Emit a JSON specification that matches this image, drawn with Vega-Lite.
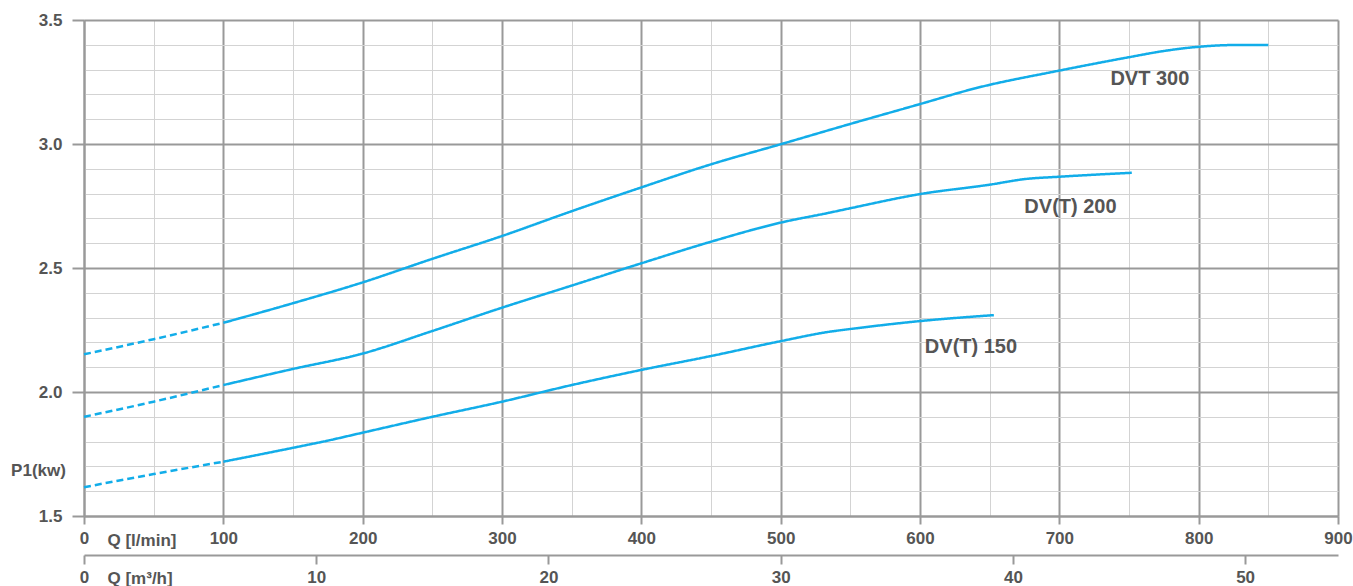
{
  "$schema": "https://vega.github.io/schema/vega-lite/v6.json",
  "width": 1254,
  "height": 496,
  "autosize": {"type": "none"},
  "padding": {"left": 84, "top": 20, "right": 15, "bottom": 70},
  "background": "white",
  "config": {
    "view": {"stroke": null},
    "axis": {
      "labelFont": "Liberation Sans", "labelFontWeight": "bold", "labelFontSize": 17, "labelColor": "#555555",
      "titleFont": "Liberation Sans", "titleFontWeight": "bold", "titleFontSize": 17, "titleColor": "#555555",
      "domainColor": "#999999", "domainWidth": 2, "tickColor": "#999999", "tickWidth": 2
    }
  },
  "datasets": {
    "curves": [
      {"series": "DVT 300", "style": "dash", "q": 0, "p": 2.152},
      {"series": "DVT 300", "style": "dash", "q": 50, "p": 2.213},
      {"series": "DVT 300", "style": "dash", "q": 100, "p": 2.279},
      {"series": "DVT 300", "style": "solid", "q": 100, "p": 2.279},
      {"series": "DVT 300", "style": "solid", "q": 150, "p": 2.358},
      {"series": "DVT 300", "style": "solid", "q": 200, "p": 2.442},
      {"series": "DVT 300", "style": "solid", "q": 250, "p": 2.537},
      {"series": "DVT 300", "style": "solid", "q": 300, "p": 2.629},
      {"series": "DVT 300", "style": "solid", "q": 350, "p": 2.729},
      {"series": "DVT 300", "style": "solid", "q": 400, "p": 2.825},
      {"series": "DVT 300", "style": "solid", "q": 450, "p": 2.918},
      {"series": "DVT 300", "style": "solid", "q": 500, "p": 2.999},
      {"series": "DVT 300", "style": "solid", "q": 550, "p": 3.081},
      {"series": "DVT 300", "style": "solid", "q": 600, "p": 3.161},
      {"series": "DVT 300", "style": "solid", "q": 640, "p": 3.225},
      {"series": "DVT 300", "style": "solid", "q": 700, "p": 3.296},
      {"series": "DVT 300", "style": "solid", "q": 750, "p": 3.350},
      {"series": "DVT 300", "style": "solid", "q": 775, "p": 3.375},
      {"series": "DVT 300", "style": "solid", "q": 800, "p": 3.392},
      {"series": "DVT 300", "style": "solid", "q": 825, "p": 3.399},
      {"series": "DVT 300", "style": "solid", "q": 850, "p": 3.399},
      {"series": "DV(T) 200", "style": "dash", "q": 0, "p": 1.900},
      {"series": "DV(T) 200", "style": "dash", "q": 50, "p": 1.961},
      {"series": "DV(T) 200", "style": "dash", "q": 100, "p": 2.028},
      {"series": "DV(T) 200", "style": "solid", "q": 100, "p": 2.028},
      {"series": "DV(T) 200", "style": "solid", "q": 150, "p": 2.093},
      {"series": "DV(T) 200", "style": "solid", "q": 200, "p": 2.155},
      {"series": "DV(T) 200", "style": "solid", "q": 250, "p": 2.246},
      {"series": "DV(T) 200", "style": "solid", "q": 300, "p": 2.340},
      {"series": "DV(T) 200", "style": "solid", "q": 350, "p": 2.429},
      {"series": "DV(T) 200", "style": "solid", "q": 400, "p": 2.519},
      {"series": "DV(T) 200", "style": "solid", "q": 450, "p": 2.606},
      {"series": "DV(T) 200", "style": "solid", "q": 500, "p": 2.683},
      {"series": "DV(T) 200", "style": "solid", "q": 535, "p": 2.723},
      {"series": "DV(T) 200", "style": "solid", "q": 550, "p": 2.741},
      {"series": "DV(T) 200", "style": "solid", "q": 600, "p": 2.798},
      {"series": "DV(T) 200", "style": "solid", "q": 650, "p": 2.836},
      {"series": "DV(T) 200", "style": "solid", "q": 676, "p": 2.859},
      {"series": "DV(T) 200", "style": "solid", "q": 700, "p": 2.868},
      {"series": "DV(T) 200", "style": "solid", "q": 752, "p": 2.884},
      {"series": "DV(T) 150", "style": "dash", "q": 0, "p": 1.616},
      {"series": "DV(T) 150", "style": "dash", "q": 50, "p": 1.669},
      {"series": "DV(T) 150", "style": "dash", "q": 100, "p": 1.719},
      {"series": "DV(T) 150", "style": "solid", "q": 100, "p": 1.719},
      {"series": "DV(T) 150", "style": "solid", "q": 150, "p": 1.775},
      {"series": "DV(T) 150", "style": "solid", "q": 175, "p": 1.804},
      {"series": "DV(T) 150", "style": "solid", "q": 200, "p": 1.836},
      {"series": "DV(T) 150", "style": "solid", "q": 250, "p": 1.900},
      {"series": "DV(T) 150", "style": "solid", "q": 300, "p": 1.961},
      {"series": "DV(T) 150", "style": "solid", "q": 350, "p": 2.028},
      {"series": "DV(T) 150", "style": "solid", "q": 400, "p": 2.089},
      {"series": "DV(T) 150", "style": "solid", "q": 450, "p": 2.145},
      {"series": "DV(T) 150", "style": "solid", "q": 500, "p": 2.205},
      {"series": "DV(T) 150", "style": "solid", "q": 535, "p": 2.243},
      {"series": "DV(T) 150", "style": "solid", "q": 550, "p": 2.254},
      {"series": "DV(T) 150", "style": "solid", "q": 600, "p": 2.286},
      {"series": "DV(T) 150", "style": "solid", "q": 653, "p": 2.310}
    ],
    "labels": [
      {"label": "DVT 300", "q": 765, "p": 3.262},
      {"label": "DV(T) 200", "q": 708, "p": 2.747},
      {"label": "DV(T) 150", "q": 636.6, "p": 2.183}
    ],
    "m3": [{"m": 0}, {"m": 54}]
  },
  "layer": [
    {
      "layer": [
        {
          "data": {"name": "curves"},
          "mark": {"type": "line", "interpolate": "monotone", "strokeWidth": 2.5, "color": "#12ade9"},
          "encoding": {
            "x": {
              "field": "q", "type": "quantitative",
              "scale": {"domain": [0, 900], "nice": false},
              "axis": {
                "orient": "bottom",
                "values": [0, 50, 100, 150, 200, 250, 300, 350, 400, 450, 500, 550, 600, 650, 700, 750, 800, 850, 900],
                "tickCount": 100,
                "labelExpr": "datum.value % 100 === 0 ? datum.label : ''",
                "labelFlush": false, "labelOverlap": false, "labelPadding": 6,
                "tickSize": 8,
                "tickOpacity": {"condition": {"test": "datum.value % 100 === 0", "value": 1}, "value": 0},
                "grid": true,
                "gridColor": {"condition": {"test": "datum.value % 100 === 0", "value": "#999999"}, "value": "#d3d3d3"},
                "gridWidth": {"condition": {"test": "datum.value % 100 === 0", "value": 2}, "value": 1},
                "title": "Q [l/min]", "titleX": 23, "titleY": 29, "titleAlign": "left", "titleBaseline": "alphabetic"
              }
            },
            "y": {
              "field": "p", "type": "quantitative",
              "scale": {"domain": [1.5, 3.5], "nice": false, "zero": false},
              "axis": {
                "values": [1.5, 1.6, 1.7, 1.8, 1.9, 2.0, 2.1, 2.2, 2.3, 2.4, 2.5, 2.6, 2.7, 2.8, 2.9, 3.0, 3.1, 3.2, 3.3, 3.4, 3.5],
                "tickCount": 100,
                "labelExpr": "round(datum.value*10) % 5 === 0 ? format(datum.value, '.1f') : ''",
                "labelOverlap": false, "labelPadding": 10,
                "tickSize": 12,
                "tickOpacity": {"condition": {"test": "round(datum.value*10) % 5 === 0", "value": 1}, "value": 0},
                "grid": true,
                "gridColor": {"condition": {"test": "round(datum.value*10) % 5 === 0", "value": "#999999"}, "value": "#d3d3d3"},
                "gridWidth": {"condition": {"test": "round(datum.value*10) % 5 === 0", "value": 2}, "value": 1},
                "title": "P1(kw)", "titleAngle": 0, "titleX": -46, "titleY": 450, "titleAlign": "center", "titleBaseline": "middle"
              }
            },
            "detail": {"field": "series", "type": "nominal"},
            "strokeDash": {
              "field": "style", "type": "nominal",
              "scale": {"domain": ["solid", "dash"], "range": [[1, 0], [7, 4]]},
              "legend": null
            }
          }
        },
        {
          "data": {"name": "labels"},
          "mark": {"type": "text", "font": "Liberation Sans", "fontWeight": "bold", "fontSize": 20, "color": "#555555", "align": "center", "baseline": "middle"},
          "encoding": {
            "x": {"field": "q", "type": "quantitative"},
            "y": {"field": "p", "type": "quantitative"},
            "text": {"field": "label", "type": "nominal"}
          }
        }
      ]
    },
    {
      "data": {"name": "m3"},
      "mark": {"type": "point", "opacity": 0},
      "encoding": {
        "x": {
          "field": "m", "type": "quantitative",
          "scale": {"domain": [0, 54], "nice": false},
          "axis": {
            "orient": "bottom", "offset": 39,
            "values": [0, 10, 20, 30, 40, 50],
            "labelFlush": false, "labelOverlap": false, "labelPadding": 5,
            "tickSize": 9, "grid": false,
            "title": "Q [m³/h]", "titleX": 23, "titleY": 28, "titleAlign": "left", "titleBaseline": "alphabetic"
          }
        }
      }
    }
  ],
  "resolve": {"scale": {"x": "independent"}, "axis": {"x": "independent"}}
}
